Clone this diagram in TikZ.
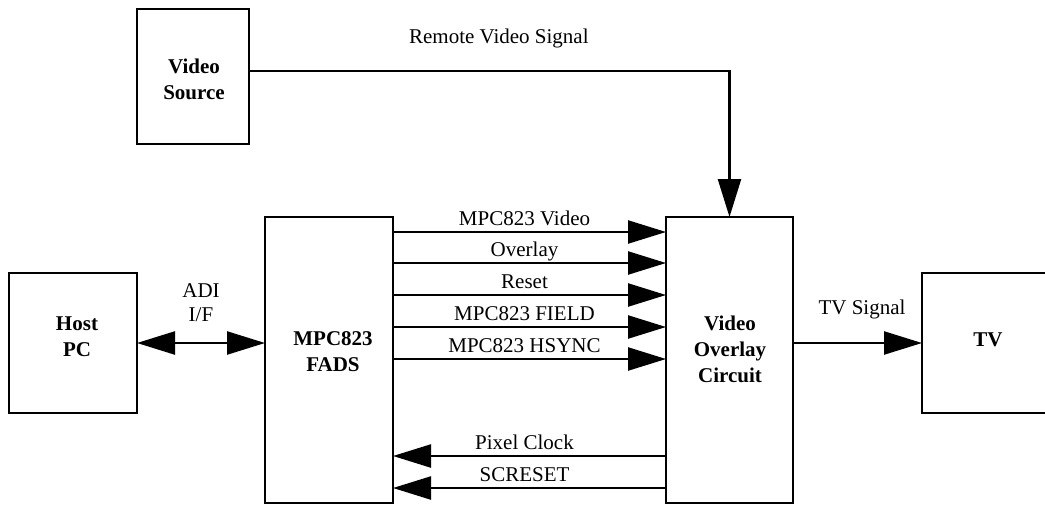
\documentclass[tikz,border=0pt]{standalone}
\usepackage{fontspec}
\setmainfont{Liberation Serif}
\usetikzlibrary{arrows.meta}
\tikzset{
  every picture/.style={line join=miter, >={Triangle[length=38pt,width=23pt]}},
  blk/.style={draw, line width=2.8pt, inner sep=0pt, outer sep=0pt},
  blktxt/.style={align=center, inner sep=0pt, font=\fontsize{21}{26}\selectfont\bfseries},
  sig/.style={line width=2.4pt},
  lbl/.style={anchor=base, yshift=6.5pt, xshift=-5pt, inner sep=0pt, font=\fontsize{21}{24}\selectfont},
}

\begin{document}
\begin{tikzpicture}[x=1pt,y=-1pt]
\useasboundingbox (0,0) rectangle (1045,504);
\clip (0,0) rectangle (1045,504);
% blocks
\node[blk,minimum width=112pt,minimum height=135pt](src) at (193,76.5){};
\node[blk,minimum width=128pt,minimum height=140pt](host) at (73,343){};
\node[blk,minimum width=128pt,minimum height=286pt](fads) at (329,360){};
\node[blk,minimum width=127pt,minimum height=286pt](ovl) at (729.5,360){};
\node[blk,minimum width=132pt,minimum height=140pt](tv) at (988,343){};
\node[blktxt](srctxt) at (194,79.5){Video\\Source};
\node[blktxt](hosttxt) at (77,337){Host\\PC};
\node[blktxt](fadstxt) at (333,352){MPC823\\FADS};
\node[blktxt](ovltxt) at (730,349){Video\\Overlay\\Circuit};
\node[blktxt](tvtxt) at (988,340){TV};
% signals
\draw[sig,->]([yshift=5.5pt]src.east) -| node[lbl,pos=0.26,yshift=21.5pt,xshift=5pt]{Remote Video Signal} (ovl.north);
\draw[sig,<->](host.east) -- node[anchor=south,inner sep=0pt,yshift=20pt,align=center,font=\fontsize{21}{24}\selectfont](adi){ADI\\I/F} (host.east -| fads.west);
\draw[sig,->]([yshift=-15pt]fads.north east) -- node[lbl]{MPC823 Video} ([yshift=-15pt]ovl.north west);
\draw[sig,->]([yshift=-46pt]fads.north east) -- node[lbl]{Overlay} ([yshift=-46pt]ovl.north west);
\draw[sig,->]([yshift=-78pt]fads.north east) -- node[lbl]{Reset} ([yshift=-78pt]ovl.north west);
\draw[sig,->]([yshift=-110pt]fads.north east) -- node[lbl]{MPC823 FIELD} ([yshift=-110pt]ovl.north west);
\draw[sig,->]([yshift=-142pt]fads.north east) -- node[lbl]{MPC823 HSYNC} ([yshift=-142pt]ovl.north west);
\draw[sig,->]([yshift=-239pt]ovl.north west) -- node[lbl]{Pixel Clock} ([yshift=-239pt]fads.north east);
\draw[sig,->]([yshift=-271pt]ovl.north west) -- node[lbl]{SCRESET} ([yshift=-271pt]fads.north east);
\draw[sig,->](ovl.east |- tv.west) -- node[lbl,yshift=22.5pt,xshift=9.5pt]{TV Signal} (tv.west);
\end{tikzpicture}
\end{document}
